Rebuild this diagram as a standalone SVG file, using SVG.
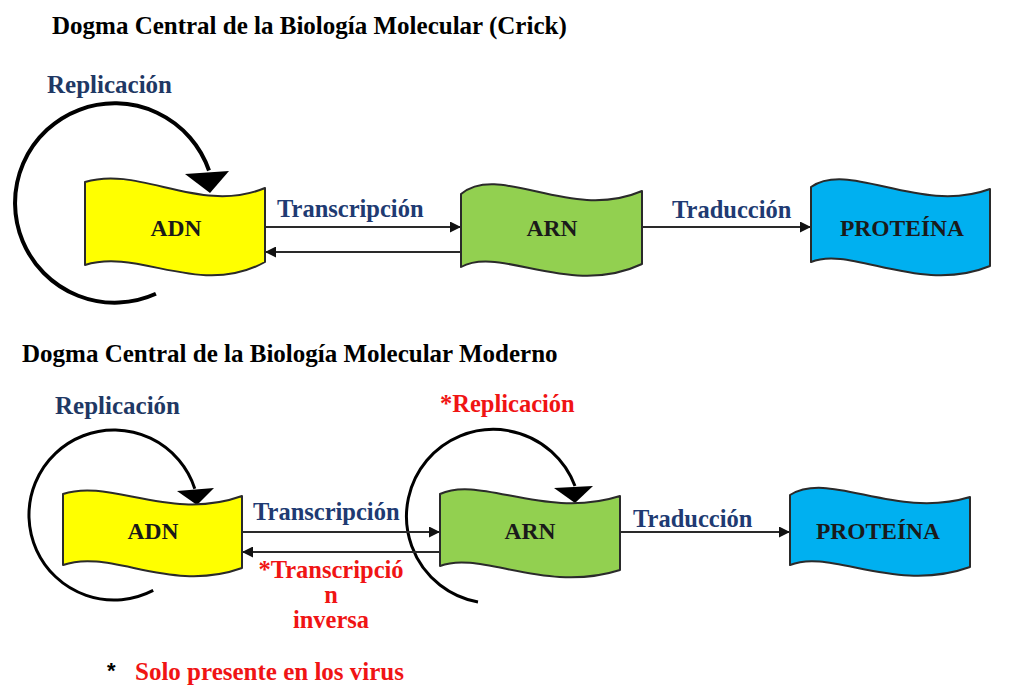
<svg xmlns="http://www.w3.org/2000/svg" width="1011" height="694" viewBox="0 0 1011 694">
<style>
text{font-family:"Liberation Serif","Times New Roman",serif;font-weight:bold}
.title{font-size:25px;fill:#000}
.rep{font-size:25px;fill:#1f3864}
.lbl{font-size:24.5px;fill:#203a72}
.red{font-size:24.5px;fill:#f01414}
.node{font-size:23.5px;fill:#1a1a1a;text-anchor:middle}
.shape{stroke:#2a2a2a;stroke-width:2;stroke-linejoin:round}
.arr{stroke:#2a2a2a;stroke-width:2;fill:none;marker-end:url(#ah)}
.loop{stroke:#000;fill:none}
</style>
<defs>
<marker id="ah" viewBox="0 0 10 10" refX="10" refY="5" markerWidth="6" markerHeight="5.5" orient="auto">
<path d="M0,0 L10,5 L0,10 Z" fill="#111"/>
</marker>
</defs>
<rect width="1011" height="694" fill="#fff"/>

<text class="title" x="52" y="34">Dogma Central de la Biología Molecular (Crick)</text>
<text class="title" x="22" y="362">Dogma Central de la Biología Molecular Moderno</text>

<g id="connectors">
<path class="loop" stroke-width="4" d="M155.9,293.8 A99.7,99.7 0 1 1 209,170.5"/>
<polygon points="185,174 229,171 210,193" fill="#000"/>
<line class="arr" x1="265" y1="227" x2="461" y2="227"/>
<line class="arr" x1="461" y1="252" x2="265" y2="252"/>
<line class="arr" x1="642" y1="227" x2="811" y2="227"/>

<path class="loop" stroke-width="3" d="M153.2,590.4 A85,85 0 1 1 194.8,488.7"/>
<polygon points="177,491 214,488 197,505" fill="#000"/>
<path class="loop" stroke-width="3" d="M478,602 A87,87 0 1 1 575,486"/>
<polygon points="554,488 593,486 575,503" fill="#000"/>
<line class="arr" x1="242" y1="532" x2="440" y2="532"/>
<line class="arr" x1="440" y1="552" x2="242" y2="552"/>
<line class="arr" x1="620" y1="532" x2="790" y2="532"/>
</g>

<text class="rep" x="47" y="93">Replicación</text>
<text class="lbl" x="277" y="217">Transcripción</text>
<text class="lbl" x="672" y="218">Traducción</text>

<g id="adn1">
<path class="shape" fill="#ffff00" d="M85,182 C140,165 200,215 265,188 L265,262 C200,298 140,248 85,265 Z"/>
<text class="node" x="176" y="236">ADN</text>
</g>
<g id="arn1">
<path class="shape" fill="#92d050" d="M461,194 C500,162 570,222 642,191 L642,264 C570,298 500,245 461,267 Z"/>
<text class="node" x="552" y="236">ARN</text>
</g>
<g id="proteina1">
<path class="shape" fill="#00b0f0" d="M811,187 C850,160 920,215 990,189 L990,266 C920,295 850,245 811,262 Z"/>
<text class="node" x="902" y="236">PROTEÍNA</text>
</g>

<text class="rep" x="55" y="414">Replicación</text>
<text class="red" x="440" y="412">*Replicación</text>
<text class="lbl" x="253" y="520">Transcripción</text>
<text class="lbl" x="633" y="527">Traducción</text>
<text class="red" text-anchor="middle"><tspan x="331" y="578">*Transcripció</tspan><tspan x="331" y="603">n</tspan><tspan x="331" y="628">inversa</tspan></text>

<g id="adn2">
<path class="shape" fill="#ffff00" d="M63,494 C110,478 170,522 242,496 L242,568 C170,594 110,548 63,565 Z"/>
<text class="node" x="153" y="539">ADN</text>
</g>
<g id="arn2">
<path class="shape" fill="#92d050" d="M440,494 C480,475 545,520 620,496 L620,570 C545,594 480,550 440,566 Z"/>
<text class="node" x="530" y="539">ARN</text>
</g>
<g id="proteina2">
<path class="shape" fill="#00b0f0" d="M790,495 C830,470 895,520 970,497 L970,567 C895,594 830,548 790,565 Z"/>
<text class="node" x="878" y="539">PROTEÍNA</text>
</g>

<text x="107" y="678" style="font-family:'Liberation Sans',Arial,sans-serif;font-size:22px;fill:#000">*</text>
<text class="red" x="135" y="680" style="font-size:25px">Solo presente en los virus</text>
</svg>
